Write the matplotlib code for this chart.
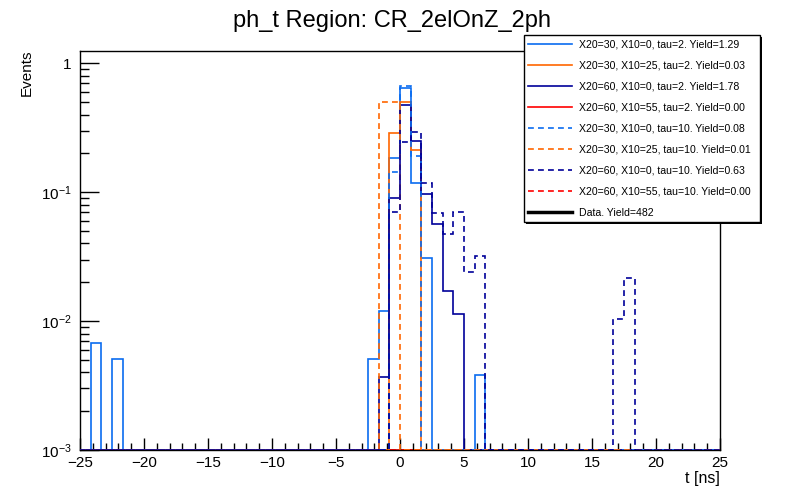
import matplotlib
matplotlib.use("Agg")
import matplotlib.pyplot as plt
from matplotlib.lines import Line2D
from matplotlib.patches import Rectangle
from matplotlib.ticker import FuncFormatter
import numpy as np

plt.rcParams['font.family'] = ['Liberation Sans', 'DejaVu Sans']

# 60 bins over [-25, 25] ns
edges = np.linspace(-25, 25, 61)
nbins = len(edges) - 1


def hist(filled):
    v = np.zeros(nbins)
    for k, val in filled.items():
        v[k] = val
    return v


# normalised shapes (bin index: content)
x30_0_tau2 = hist({1: 0.0067, 3: 0.0051, 27: 0.0051, 28: 0.012, 29: 0.183,
                   30: 0.64, 31: 0.117, 32: 0.0307, 37: 0.0038})
x30_25_tau2 = hist({29: 0.286, 30: 0.50, 31: 0.214})
x60_0_tau2 = hist({28: 0.0037, 29: 0.0897, 30: 0.475, 31: 0.247, 32: 0.0974,
                   33: 0.0563, 34: 0.0171, 35: 0.0113})
x60_55_tau2 = hist({})
x30_0_tau10 = hist({29: 0.144, 30: 0.667, 31: 0.190})
x30_25_tau10 = hist({28: 0.50, 29: 0.50})
x60_0_tau10 = hist({29: 0.0706, 30: 0.244, 31: 0.292, 32: 0.117, 33: 0.0686,
                    34: 0.0471, 35: 0.0706, 36: 0.0239, 37: 0.032,
                    50: 0.0103, 51: 0.0215})
x60_55_tau10 = hist({})

labels = ["X20=30, X10=0, tau=2. Yield=1.29",
          "X20=30, X10=25, tau=2. Yield=0.03",
          "X20=60, X10=0, tau=2. Yield=1.78",
          "X20=60, X10=55, tau=2. Yield=0.00",
          "X20=30, X10=0, tau=10. Yield=0.08",
          "X20=30, X10=25, tau=10. Yield=0.01",
          "X20=60, X10=0, tau=10. Yield=0.63",
          "X20=60, X10=55, tau=10. Yield=0.00"]
data_label = "Data. Yield=482"

series = [x30_0_tau2, x30_25_tau2, x60_0_tau2, x60_55_tau2,
          x30_0_tau10, x30_25_tau10, x60_0_tau10, x60_55_tau10]
colors = ['#0a6cf0', '#ff6600', '#000099', '#ff0000'] * 2
zorders = [3, 3, 3, 1, 4, 4, 4, 1]

ymin, ymax = 1e-3, 1.25

fig = plt.figure(figsize=(8, 5), dpi=100)
ax = fig.add_axes([0.1, 0.1, 0.8, 0.7986])
ax.patch.set_visible(False)

handles = []
for i, vals in enumerate(series):
    dashed = i >= 4
    # empty bins are drawn on the bottom of the frame, as ROOT does
    v = np.where(vals > 0, vals, ymin)
    ls = (0, (3.5, 2.5)) if dashed else '-'
    ax.stairs(v, edges, baseline=None, color=colors[i], lw=1.2,
              linestyle=ls, zorder=zorders[i])
    handles.append(Line2D([], [], color=colors[i], lw=1.2, linestyle=ls))
handles.append(Line2D([], [], color='black', lw=2.5))

ax.set_yscale('log')
ax.set_xlim(-25, 25)
ax.set_ylim(ymin, ymax)


def log_fmt(y, pos):
    e = int(round(np.log10(y)))
    if e == 0:
        return "1"
    return r"$\mathregular{10^{%d}}$" % e


ax.yaxis.set_major_formatter(FuncFormatter(log_fmt))

ax.set_xticks(np.arange(-25, 26, 5))
ax.set_xticks(np.arange(-25, 26, 1), minor=True)
ax.tick_params(axis='both', which='both', direction='in', labelsize=11,
               top=False, right=False)
ax.tick_params(axis='x', which='major', length=8.6, width=1, pad=4)
ax.tick_params(axis='x', which='minor', length=4.8, width=1)
ax.tick_params(axis='y', which='major', length=13.7, width=1, pad=6)
ax.tick_params(axis='y', which='minor', length=6.8, width=1)
for s in ax.spines.values():
    s.set_linewidth(1)

fig.text(0.49, 1 - 27 / 500, "ph_t Region: CR_2elOnZ_2ph", fontsize=17,
         ha='center', va='baseline')
fig.text(27 / 800, 1 - 50 / 500, "Events", fontsize=11, rotation=90,
         ha='center', va='top')
fig.text(720 / 800, 1 - 483 / 500, "t [ns]", fontsize=11.5,
         ha='right', va='baseline')

leg = ax.legend(handles, labels + [data_label],
                bbox_to_anchor=(524 / 800, 1 - 225 / 500, 236 / 800, 190 / 500),
                bbox_transform=fig.transFigure, loc='upper left', mode='expand',
                borderaxespad=0, fontsize=7.6, labelspacing=1.05,
                handlelength=4.1, handletextpad=0.75, borderpad=0.4,
                fancybox=False, edgecolor='black', framealpha=1)
leg.get_frame().set_linewidth(1)
leg.set_zorder(10)

# solid black drop shadow like ROOT's legend box
fig.canvas.draw()
bb = leg.get_window_extent().transformed(fig.transFigure.inverted())
dx, dy = 2 / 800, 2 / 500
fig.patches.append(Rectangle((bb.x0 + dx, bb.y0 - dy), bb.width, bb.height,
                             transform=fig.transFigure, facecolor='black',
                             edgecolor='none', zorder=-1))

fig.savefig("out.png", dpi=100)
